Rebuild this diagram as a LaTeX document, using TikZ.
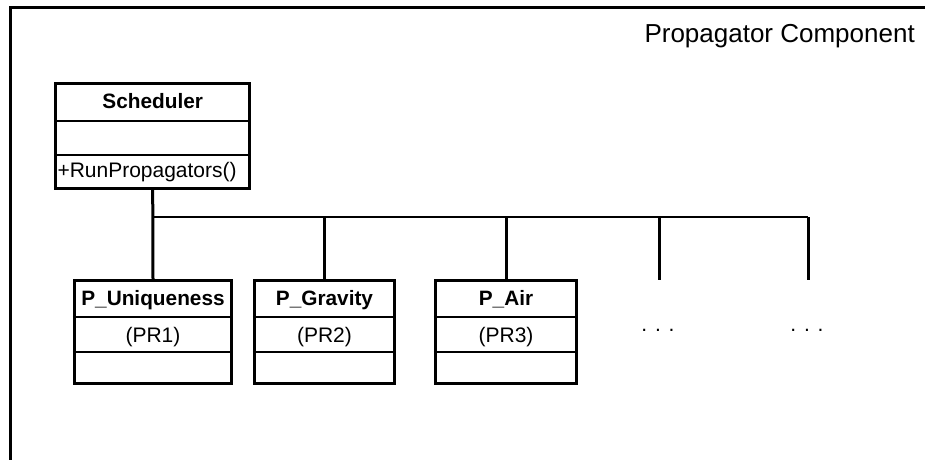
\documentclass[tikz,border=0pt]{standalone}
\usepackage{fontspec}
\setmainfont{Liberation Sans}
\usetikzlibrary{calc}

\tikzset{
  umlclass/.style={draw, line width=2.8pt, inner sep=0pt},
  divider/.style={line width=2.2pt},
  link/.style={line width=3pt},
  bus/.style={line width=1.8pt},
  frame/.style={line width=3pt},
  classname/.style={font=\fontsize{20.8}{24}\selectfont\bfseries, anchor=base, inner sep=0pt},
  classtext/.style={font=\fontsize{21}{24}\selectfont, anchor=base, inner sep=0pt},
}

\begin{document}
\begin{tikzpicture}[x=1pt,y=1pt,yscale=-1,xscale=1]
\useasboundingbox (0,0) rectangle (925,459);

% package frame, only left and top edge visible
\draw[frame] (10,462) -- (10,7) -- (928,7);
\node[font=\fontsize{26}{30}\selectfont, anchor=base east, inner sep=0pt] (title) at (915,42) {Propagator Component};

% scheduler class
\node[umlclass, minimum width=194, minimum height=105.4] (sched) at (152.7,136) {};
\draw[divider] ($(sched.north west)+(0,38.7)$) -- ($(sched.north east)+(0,38.7)$);
\draw[divider] ($(sched.north west)+(0,72.7)$) -- ($(sched.north east)+(0,72.7)$);
\node[classname] (sched-name) at ($(sched.north)+(0,26.7)$) {Scheduler};
\node[classtext, anchor=base west] (sched-op) at ($(sched.north west)+(3,95.7)$) {+RunPropagators()};

% propagator classes
\foreach \name/\cx/\w/\cname/\pr in {pu/153/157.4/P\_Uniqueness/PR1, pg/324.5/140.4/P\_Gravity/PR2, pa/506/141.4/P\_Air/PR3} {
  \node[umlclass, minimum width=\w, minimum height=103.4] (\name) at (\cx,332) {};
  \draw[divider] ($(\name.north west)+(0,38.2)$) -- ($(\name.north east)+(0,38.2)$);
  \draw[divider] ($(\name.north west)+(0,72.7)$) -- ($(\name.north east)+(0,72.7)$);
  \node[classname] (\name-name) at ($(\name.north)+(0,26.7)$) {\cname};
  \node[classtext] (\name-pr) at ($(\name.north)+(0,63.7)$) {(\pr)};
}

% further propagators
\coordinate (more1) at (659,280);
\coordinate (more2) at (808,280);
\node[classtext] (dots1) at (658,331) {. . .};
\node[classtext] (dots2) at (807,331) {. . .};

% connectors
\coordinate (busL) at (153,217);
\coordinate (busR) at (808,217);
\draw[bus] (busL) -- (busR);
\draw[link] (sched.south) -- (pu.north);
\draw[link] (pg.north |- busL) -- (pg.north);
\draw[link] (pa.north |- busL) -- (pa.north);
\draw[link] (more1 |- busL) -- (more1);
\draw[link] (more2 |- busL) -- (more2);
\end{tikzpicture}
\end{document}
